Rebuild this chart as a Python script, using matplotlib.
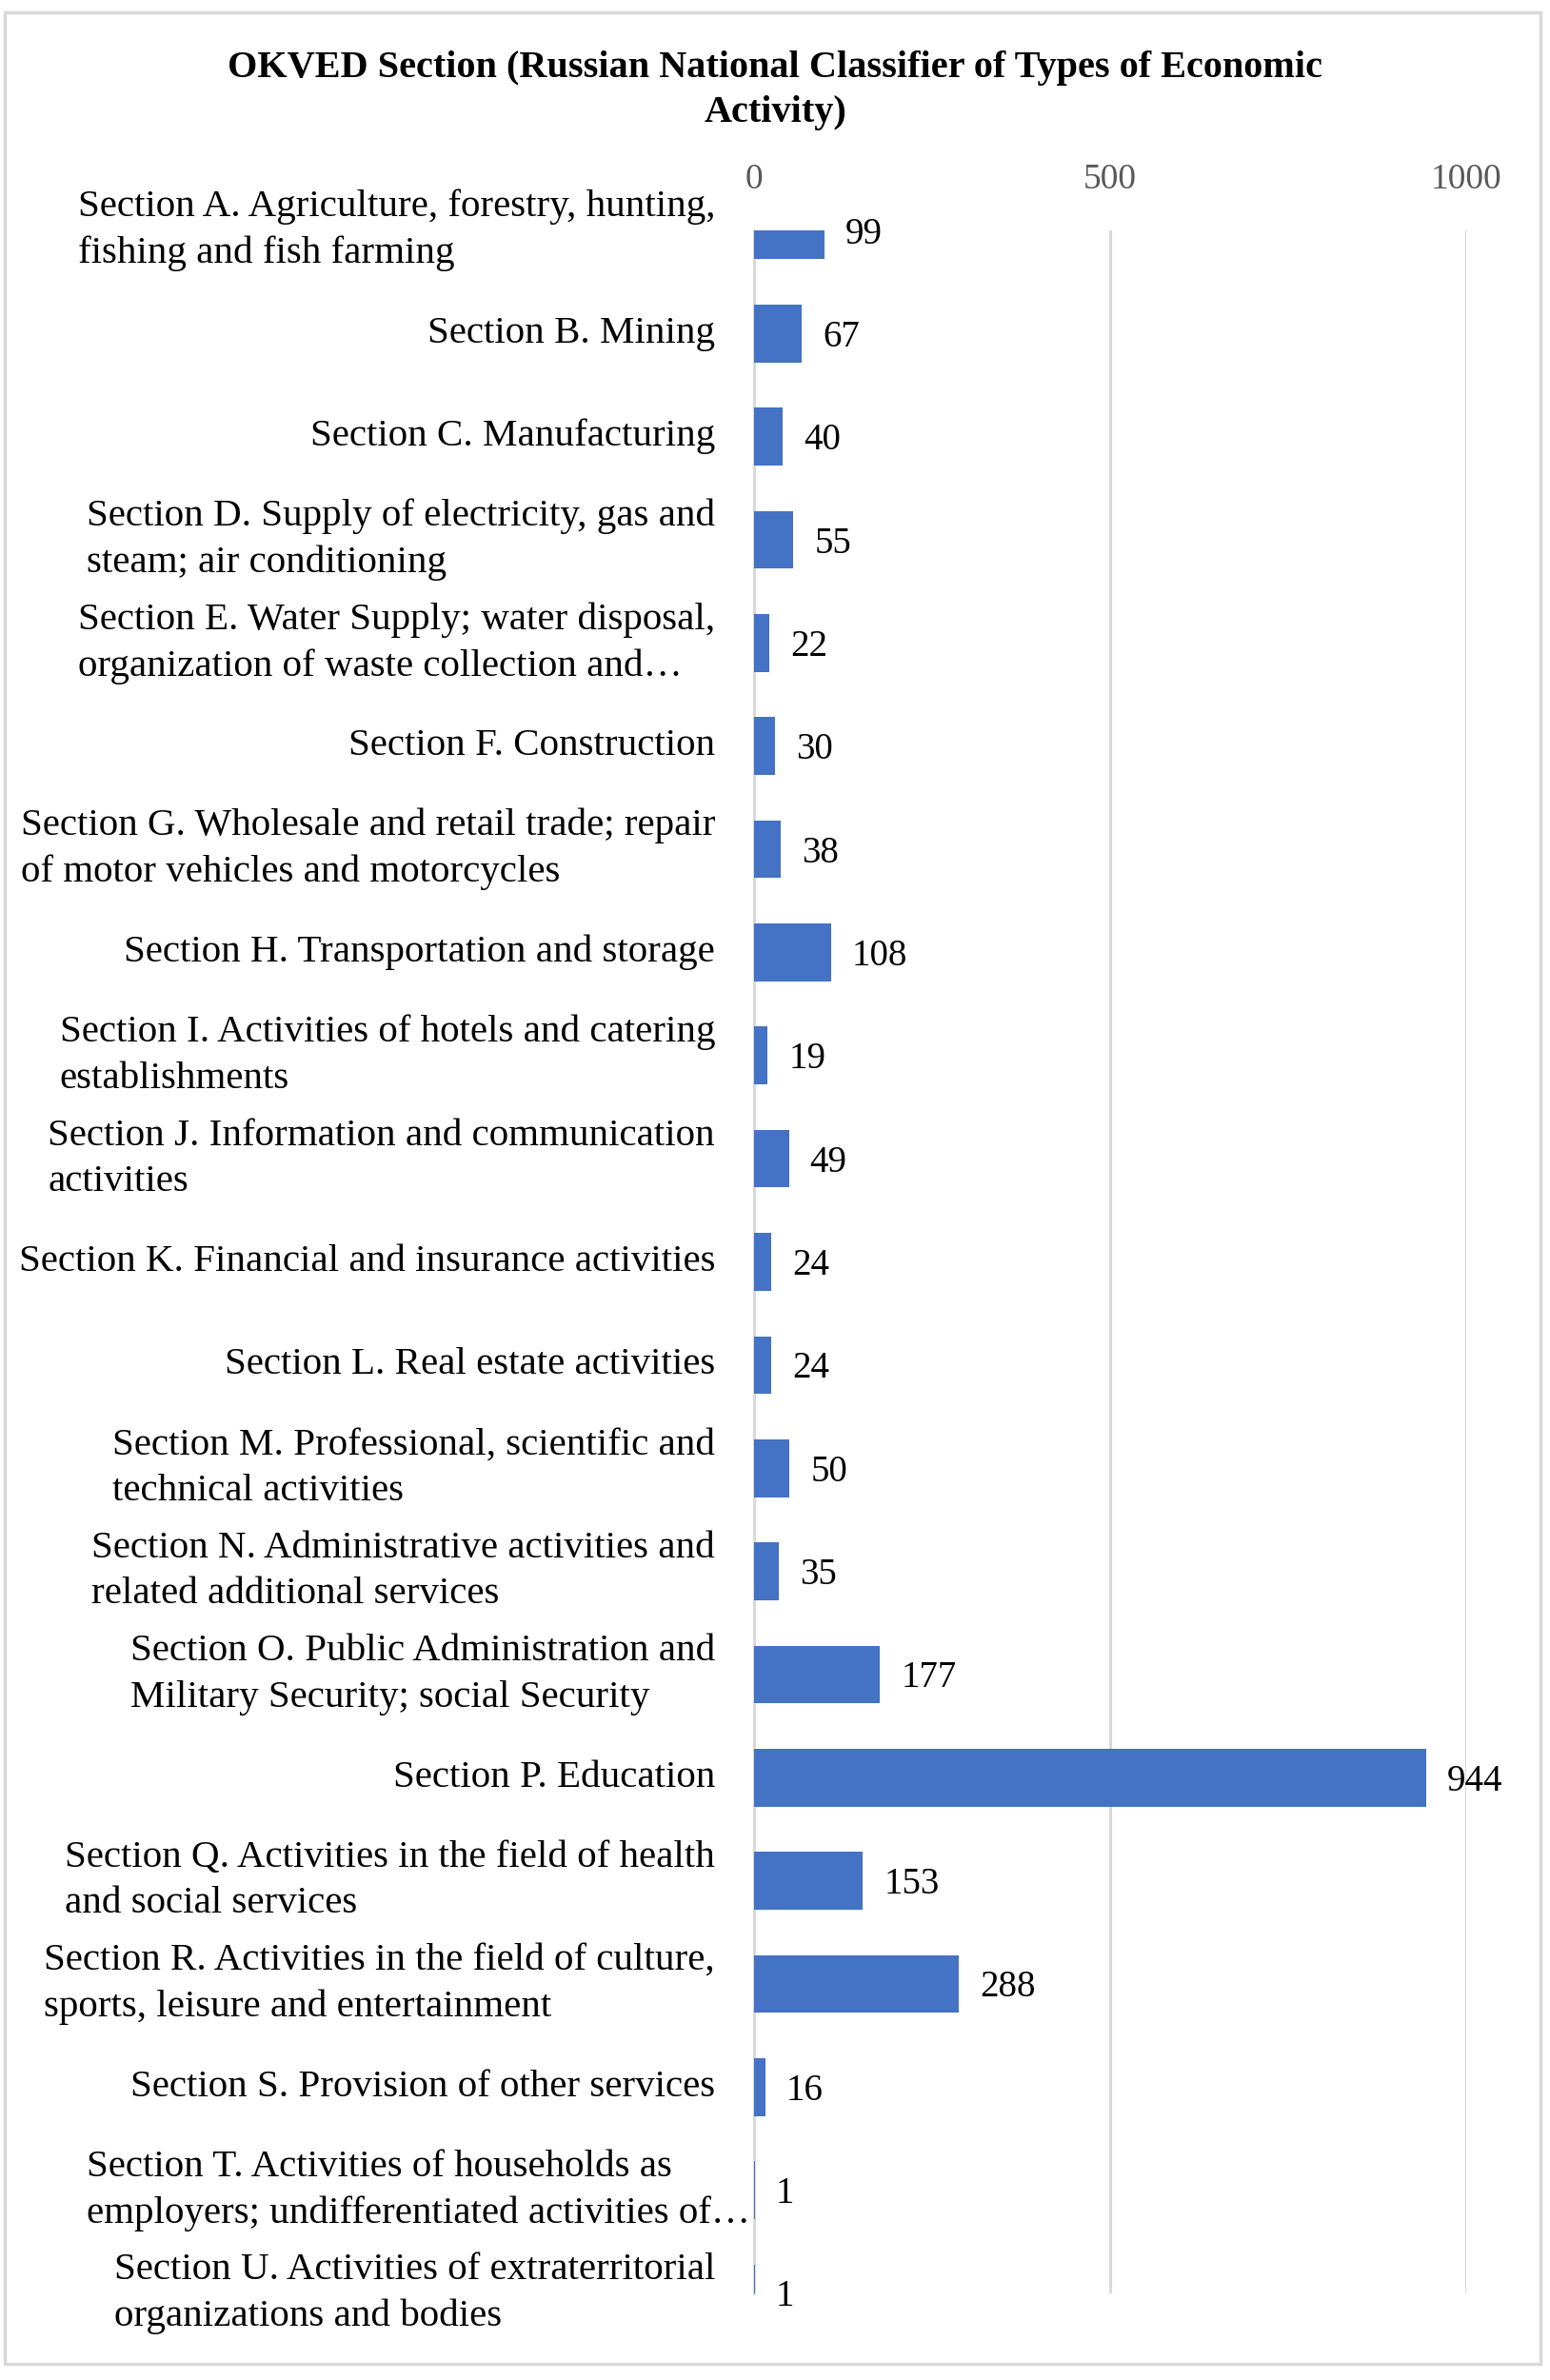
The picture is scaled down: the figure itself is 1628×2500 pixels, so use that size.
import matplotlib
matplotlib.use("Agg")
import matplotlib.pyplot as plt
from matplotlib.patches import Rectangle

plt.rcParams['font.family'] = ['Liberation Serif', 'DejaVu Serif']

sections = [
    "Section A. Agriculture, forestry, hunting,\nfishing and fish farming",
    "Section B. Mining",
    "Section C. Manufacturing",
    "Section D. Supply of electricity, gas and\nsteam; air conditioning",
    "Section E. Water Supply; water disposal,\norganization of waste collection and\u2026",
    "Section F. Construction",
    "Section G. Wholesale and retail trade; repair\nof motor vehicles and motorcycles",
    "Section H. Transportation and storage",
    "Section I. Activities of hotels and catering\nestablishments",
    "Section J. Information and communication\nactivities",
    "Section K. Financial and insurance activities",
    "Section L. Real estate activities",
    "Section M. Professional, scientific and\ntechnical activities",
    "Section N. Administrative activities and\nrelated additional services",
    "Section O. Public Administration and\nMilitary Security; social Security",
    "Section P. Education",
    "Section Q. Activities in the field of health\nand social services",
    "Section R. Activities in the field of culture,\nsports, leisure and entertainment",
    "Section S. Provision of other services",
    "Section T. Activities of households as\nemployers; undifferentiated activities of\u2026",
    "Section U. Activities of extraterritorial\norganizations and bodies",
]
counts = [99, 67, 40, 55, 22, 30, 38, 108, 19, 49, 24, 24, 50, 35, 177, 944, 153, 288, 16, 1, 1]
ticks = [0, 500, 1000]

title = "OKVED Section (Russian National Classifier of Types of Economic\nActivity)"

fig = plt.figure(figsize=(16.28, 25), dpi=100)
ax = fig.add_axes([0.4865, 0.0364, 0.4595, 0.8668])

# outer chart border
fig.patches.append(Rectangle((0.003, 0.0068), 0.991, 0.9882, transform=fig.transFigure,
                             fill=False, edgecolor='#d9d9d9', linewidth=2.5))

y = list(range(len(counts)))
ax.barh(y, counts, height=0.56, color='#4472C4', zorder=3)

ax.set_xlim(0, 1000)
ax.set_ylim(len(counts) - 1, 0)
ax.set_xticks(ticks)
ax.set_xticklabels([str(t) for t in ticks])
ax.xaxis.tick_top()
ax.tick_params(axis='x', length=0, pad=26, labelsize=27, labelcolor='#595959')
ax.set_yticks([])

ax.grid(axis='x', color='#d9d9d9', linewidth=2.2, zorder=0)
for s in ['top', 'right', 'bottom']:
    ax.spines[s].set_visible(False)
ax.spines['left'].set_color('#d9d9d9')
ax.spines['left'].set_linewidth(2.2)

for i, (lab, v) in enumerate(zip(sections, counts)):
    ax.annotate(str(v), (v, i), xytext=(22, -4), textcoords='offset pixels',
                ha='left', va='center', fontsize=28, color='black', clip_on=False)
    off = -4 if lab.startswith("Section T") else -41
    ax.annotate(lab, (0, i), xytext=(off, 0), textcoords='offset pixels',
                ha='right', va='center', ma='left', fontsize=29.5, color='black',
                linespacing=1.4, annotation_clip=False)

fig.text(0.5, 0.962, title, ha='center', va='center', fontsize=29,
         fontweight='bold', linespacing=1.38)

fig.savefig('out.png', dpi=100)
